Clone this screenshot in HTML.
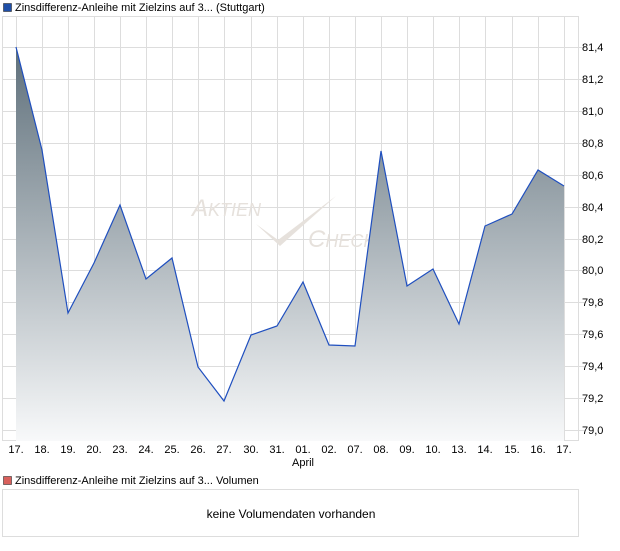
<!DOCTYPE html>
<html><head><meta charset="utf-8"><style>
body{margin:0;background:#fff;font-family:"Liberation Sans",sans-serif;}
</style></head><body>
<svg width="620" height="546" viewBox="0 0 620 546" xmlns="http://www.w3.org/2000/svg" font-family="Liberation Sans, sans-serif">
<defs>
<linearGradient id="g" x1="0" y1="0" x2="0" y2="1">
<stop offset="0" stop-color="#5f707b"/>
<stop offset="1" stop-color="#f8f9fa"/>
</linearGradient>
</defs>
<rect x="3.5" y="3.5" width="8" height="8" fill="#1f4fa8" stroke="#333" stroke-width="0.6"/>
<text x="15" y="11" font-size="11" fill="#000">Zinsdifferenz-Anleihe mit Zielzins auf 3... (Stuttgart)</text>
<rect x="2.5" y="16.5" width="576" height="424" fill="#fff" stroke="#ddd"/>
<g stroke="#ddd" stroke-width="1">
<line x1="3" x2="585" y1="47.5" y2="47.5"/><line x1="3" x2="585" y1="79.5" y2="79.5"/><line x1="3" x2="585" y1="111.5" y2="111.5"/><line x1="3" x2="585" y1="143.5" y2="143.5"/><line x1="3" x2="585" y1="175.5" y2="175.5"/><line x1="3" x2="585" y1="207.5" y2="207.5"/><line x1="3" x2="585" y1="239.5" y2="239.5"/><line x1="3" x2="585" y1="270.5" y2="270.5"/><line x1="3" x2="585" y1="302.5" y2="302.5"/><line x1="3" x2="585" y1="334.5" y2="334.5"/><line x1="3" x2="585" y1="366.5" y2="366.5"/><line x1="3" x2="585" y1="398.5" y2="398.5"/><line x1="3" x2="585" y1="430.5" y2="430.5"/>
<line x1="16.5" x2="16.5" y1="17" y2="441"/><line x1="42.5" x2="42.5" y1="17" y2="441"/><line x1="68.5" x2="68.5" y1="17" y2="441"/><line x1="94.5" x2="94.5" y1="17" y2="441"/><line x1="120.5" x2="120.5" y1="17" y2="441"/><line x1="146.5" x2="146.5" y1="17" y2="441"/><line x1="172.5" x2="172.5" y1="17" y2="441"/><line x1="198.5" x2="198.5" y1="17" y2="441"/><line x1="224.5" x2="224.5" y1="17" y2="441"/><line x1="251.5" x2="251.5" y1="17" y2="441"/><line x1="277.5" x2="277.5" y1="17" y2="441"/><line x1="303.5" x2="303.5" y1="17" y2="441"/><line x1="329.5" x2="329.5" y1="17" y2="441"/><line x1="355.5" x2="355.5" y1="17" y2="441"/><line x1="381.5" x2="381.5" y1="17" y2="441"/><line x1="407.5" x2="407.5" y1="17" y2="441"/><line x1="433.5" x2="433.5" y1="17" y2="441"/><line x1="459.5" x2="459.5" y1="17" y2="441"/><line x1="485.5" x2="485.5" y1="17" y2="441"/><line x1="512.5" x2="512.5" y1="17" y2="441"/><line x1="538.5" x2="538.5" y1="17" y2="441"/><line x1="564.5" x2="564.5" y1="17" y2="441"/>
</g>
<g fill="#e6e1dc" font-style="italic" font-size="24">
<text x="192" y="216">A<tspan font-size="18">KTIEN</tspan></text>
<text x="308" y="247">C<tspan font-size="18">HECK</tspan></text>
</g>
<path d="M256,224 L278,240 L336,196 L280,246 Z" fill="#e6e1dc"/>
<path d="M16,47 L42,150 L68,313 L94,263 L120,205 L146,279 L172,258 L198,367 L224,401 L251,335 L277,326 L303,282 L329,345 L355,346 L381,151 L407,286 L433,269 L459,324 L485,226 L512,214 L538,170 L564,186 L564,441 L16,441 Z" fill="url(#g)"/>
<polyline points="16,47 42,150 68,313 94,263 120,205 146,279 172,258 198,367 224,401 251,335 277,326 303,282 329,345 355,346 381,151 407,286 433,269 459,324 485,226 512,214 538,170 564,186" fill="none" stroke="#1f4fbf" stroke-width="1.2"/>
<g font-size="11" fill="#000">
<text x="582" y="51">81,4</text><text x="582" y="83">81,2</text><text x="582" y="115">81,0</text><text x="582" y="147">80,8</text><text x="582" y="179">80,6</text><text x="582" y="211">80,4</text><text x="582" y="243">80,2</text><text x="582" y="274">80,0</text><text x="582" y="306">79,8</text><text x="582" y="338">79,6</text><text x="582" y="370">79,4</text><text x="582" y="402">79,2</text><text x="582" y="434">79,0</text>
</g>
<g font-size="11" fill="#000" text-anchor="middle">
<text x="16" y="453">17.</text><text x="42" y="453">18.</text><text x="68" y="453">19.</text><text x="94" y="453">20.</text><text x="120" y="453">23.</text><text x="146" y="453">24.</text><text x="172" y="453">25.</text><text x="198" y="453">26.</text><text x="224" y="453">27.</text><text x="251" y="453">30.</text><text x="277" y="453">31.</text><text x="303" y="453">01.</text><text x="329" y="453">02.</text><text x="355" y="453">07.</text><text x="381" y="453">08.</text><text x="407" y="453">09.</text><text x="433" y="453">10.</text><text x="459" y="453">13.</text><text x="485" y="453">14.</text><text x="512" y="453">15.</text><text x="538" y="453">16.</text><text x="564" y="453">17.</text>
<text x="303" y="466">April</text>
</g>
<rect x="3.5" y="476.5" width="8" height="8" fill="#d9605c" stroke="#333" stroke-width="0.6"/>
<text x="15" y="484" font-size="11" fill="#000">Zinsdifferenz-Anleihe mit Zielzins auf 3... Volumen</text>
<rect x="2.5" y="489.5" width="576" height="47" fill="#fff" stroke="#ddd"/>
<text x="291" y="518" font-size="12" fill="#000" text-anchor="middle">keine Volumendaten vorhanden</text>
</svg>
</body></html>
